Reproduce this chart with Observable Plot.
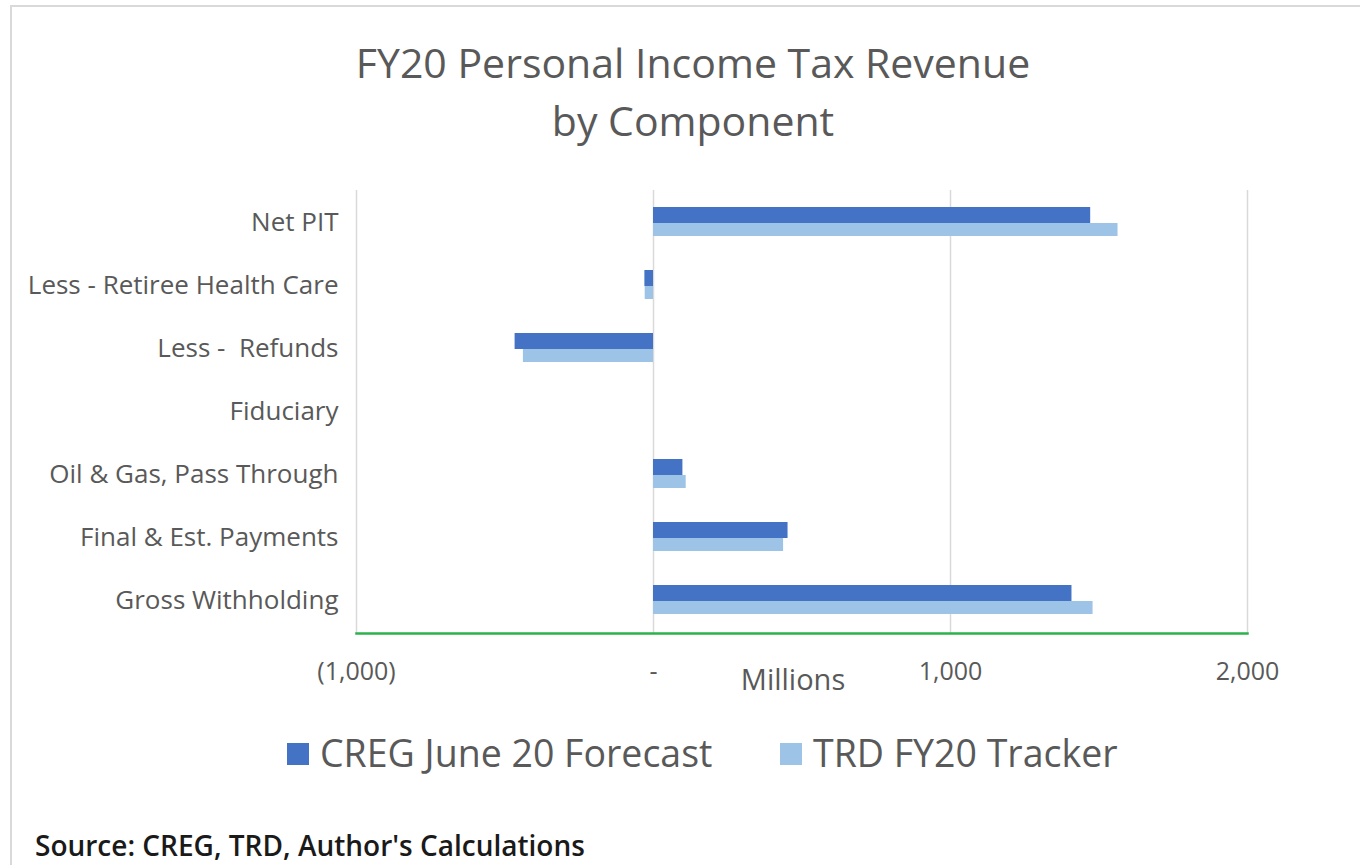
<!DOCTYPE html>
<html>
<head>
<meta charset="utf-8">
<script src="https://cdn.jsdelivr.net/npm/d3@7"></script>
<script src="https://cdn.jsdelivr.net/npm/@observablehq/plot@0.6"></script>
<style>
  html, body { margin: 0; padding: 0; background: #fff; }
  #wrap { position: relative; width: 1360px; height: 865px; overflow: hidden; background: #fff; font-family: "Open Sans", sans-serif; }
  #border { position: absolute; left: 10px; top: 5px; width: 1400px; height: 900px; border: 2px solid #d9d9d9; box-sizing: border-box; }
  .title { position: absolute; left: 0; width: 1386px; text-align: center; color: #595959; font-size: 41px; white-space: nowrap; }
  #chart { position: absolute; left: 0; top: 170px; }
  #legend { position: absolute; top: 728px; left: 0; width: 1360px; height: 50px; }
  .lg { position: absolute; top: 0; font-size: 37.5px; color: #595959; white-space: nowrap; line-height: 50px; }
  .sw { position: absolute; width: 22px; height: 22px; top: 15px; }
  #source { position: absolute; left: 35px; top: 826px; font-size: 28px; font-weight: 600; color: #1a1a1a; white-space: nowrap; }
</style>
</head>
<body>
<div id="wrap">
  <div id="border"></div>
  <div class="title" style="top:34px;">FY20 Personal Income Tax Revenue</div>
  <div class="title" style="top:92px;">by Component</div>
  <div id="chart"></div>
  <div id="legend"></div>
  <div id="source">Source: CREG, TRD, Author's Calculations</div>
</div>
<script>
const categories = [
  "Net PIT",
  "Less - Retiree Health Care",
  "Less -  Refunds",
  "Fiduciary",
  "Oil & Gas, Pass Through",
  "Final & Est. Payments",
  "Gross Withholding"
];
const seriesNames = ["CREG June 20 Forecast", "TRD FY20 Tracker"];
const seriesColors = ["#4472c4", "#9dc3e6"];
const cregValues = [1472, -29, -466, 0, 99, 453, 1409];
const trdValues  = [1564, -28, -438, 0, 110, 438, 1480];
const xTicks = [-1000, 0, 1000, 2000];

const creg = categories.map((c, i) => ({category: c, value: cregValues[i]}));
const trd  = categories.map((c, i) => ({category: c, value: trdValues[i]}));

const fmt = d3.format(",");
const tickFormat = d => d < 0 ? `(${fmt(-d)})` : d === 0 ? "-" : fmt(d);

const chart = Plot.plot({
  width: 1360,
  height: 530,
  marginTop: 20,
  marginBottom: 67,
  marginLeft: 356,
  marginRight: 113,
  style: {fontFamily: "Open Sans, sans-serif", background: "transparent"},
  x: {domain: [-1000, 2000]},
  y: {domain: categories, padding: 0},
  marks: [
    Plot.gridX(xTicks, {stroke: "#d9d9d9", strokeOpacity: 1, strokeWidth: 1.5}),
    Plot.barX(creg, {x: "value", y: "category", fill: seriesColors[0], insetTop: 16, insetBottom: 31}),
    Plot.barX(trd, {x: "value", y: "category", fill: seriesColors[1], insetTop: 32, insetBottom: 18}),
    Plot.frame({anchor: "bottom", stroke: "#2bb24c", strokeWidth: 2.5}),
    Plot.axisX(xTicks, {tickSize: 0, tickPadding: 29, tickFormat, fontSize: 25, fill: "#595959", label: null}),
    Plot.axisY({tickSize: 0, tickPadding: 18, fontSize: 26, fill: "#595959", label: null}),
    Plot.text(["Millions"], {frameAnchor: "bottom", dy: 56, dx: -9, fontSize: 29, fill: "#595959"})
  ]
});
document.getElementById("chart").appendChild(chart);

const legend = document.getElementById("legend");
const items = [
  {name: seriesNames[0], color: seriesColors[0], sw: 287, tx: 320},
  {name: seriesNames[1], color: seriesColors[1], sw: 780, tx: 813}
];
for (const it of items) {
  const s = document.createElement("div");
  s.className = "sw"; s.style.left = it.sw + "px"; s.style.background = it.color;
  legend.appendChild(s);
  const t = document.createElement("div");
  t.className = "lg"; t.style.left = it.tx + "px";
  t.textContent = it.name;
  legend.appendChild(t);
}
</script>
</body>
</html>
